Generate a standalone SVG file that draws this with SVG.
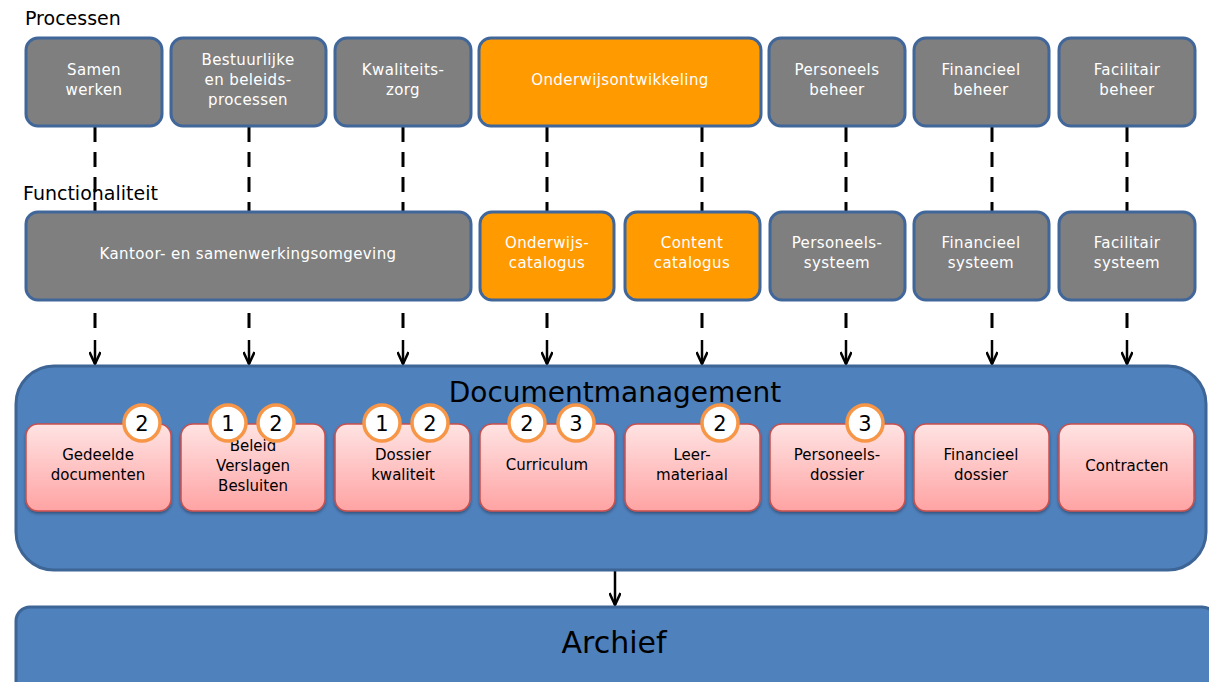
<svg xmlns="http://www.w3.org/2000/svg" width="1209" height="682" viewBox="0 0 1209 682">
  <style>
    .lbl { font-family: "DejaVu Sans", "Liberation Sans", sans-serif; font-size: 19px; fill: #000; }
    .proc { fill: #7F7F7F; stroke: #41679A; stroke-width: 3; }
    .hot { fill: #FF9A00; stroke: #41679A; stroke-width: 3; }
    .wt { font-family: "DejaVu Sans", "Liberation Sans", sans-serif; font-size: 15px; fill: #FFFFFF; text-anchor: middle; letter-spacing: 0.4px; }
    .doc { fill: url(#pink); stroke: #C9504D; stroke-width: 1.5; filter: url(#shadow); }
    .bt { font-family: "DejaVu Sans", "Liberation Sans", sans-serif; font-size: 15px; fill: #000; text-anchor: middle; }
    .badge { fill: #FFFFFF; stroke: #F79646; stroke-width: 3.5; }
    .num { font-family: "DejaVu Sans", "Liberation Sans", sans-serif; font-size: 21px; fill: #000; text-anchor: middle; }
    .big { fill: #4F81BD; stroke: #3D6596; stroke-width: 3; }
    .title { font-family: "DejaVu Sans", "Liberation Sans", sans-serif; font-size: 28px; fill: #000; text-anchor: middle; }
    .dash { stroke: #000; stroke-width: 3; stroke-dasharray: 15 10; fill: none; }
    .stem { stroke: #000; stroke-width: 2.5; fill: none; marker-end: url(#arrow); }
  </style>
  <defs>
    <linearGradient id="pink" x1="0" y1="0" x2="0" y2="1">
      <stop offset="0" stop-color="#FFE3E3"/>
      <stop offset="1" stop-color="#FFA3A3"/>
    </linearGradient>
    <filter id="shadow" x="-10%" y="-10%" width="120%" height="130%">
      <feDropShadow dx="0" dy="2" stdDeviation="1.5" flood-color="#000" flood-opacity="0.35"/>
    </filter>
    <marker id="arrow" viewBox="0 0 14 12" refX="13" refY="6" markerWidth="14" markerHeight="12" markerUnits="userSpaceOnUse" orient="auto">
      <path d="M1,0.5 L13,6 L1,11.5" fill="none" stroke="#000" stroke-width="2.5"/>
    </marker>
  </defs>

  <!-- connectors, drawn first so the boxes cover them -->
  <g id="connectors">
    <path class="dash" d="M95,127 V300 M249,127 V300 M403,127 V300 M547,127 V300 M702,127 V300 M846,127 V300 M992,127 V300 M1127,127 V300"/>
    <path class="dash" d="M95,313 V328 M249,313 V328 M403,313 V328 M547,313 V328 M702,313 V328 M846,313 V328 M992,313 V328 M1127,313 V328"/>
    <path class="stem" d="M95,340 V364"/>
    <path class="stem" d="M249,340 V364"/>
    <path class="stem" d="M403,340 V364"/>
    <path class="stem" d="M547,340 V364"/>
    <path class="stem" d="M702,340 V364"/>
    <path class="stem" d="M846,340 V364"/>
    <path class="stem" d="M992,340 V364"/>
    <path class="stem" d="M1127,340 V364"/>
    <path class="stem" d="M615,571 V605"/>
  </g>

  <!-- section labels -->
  <text class="lbl" x="25" y="25">Processen</text>
  <text class="lbl" x="23" y="200">Functionaliteit</text>

  <!-- processes -->
  <g id="p-samenwerken">
    <rect class="proc" x="26" y="38" width="136" height="88" rx="12"/>
    <text class="wt" x="94" y="75">Samen</text>
    <text class="wt" x="94" y="95">werken</text>
  </g>
  <g id="p-bestuurlijk">
    <rect class="proc" x="171" y="38" width="155" height="88" rx="12"/>
    <text class="wt" x="248" y="65">Bestuurlijke</text>
    <text class="wt" x="248" y="85">en beleids-</text>
    <text class="wt" x="248" y="105">processen</text>
  </g>
  <g id="p-kwaliteit">
    <rect class="proc" x="335" y="38" width="136" height="88" rx="12"/>
    <text class="wt" x="403" y="75">Kwaliteits-</text>
    <text class="wt" x="403" y="95">zorg</text>
  </g>
  <g id="p-onderwijs">
    <rect class="hot" x="479" y="38" width="282" height="88" rx="12"/>
    <text class="wt" x="620" y="85">Onderwijsontwikkeling</text>
  </g>
  <g id="p-personeel">
    <rect class="proc" x="769" y="38" width="136" height="88" rx="12"/>
    <text class="wt" x="837" y="75">Personeels</text>
    <text class="wt" x="837" y="95">beheer</text>
  </g>
  <g id="p-financieel">
    <rect class="proc" x="914" y="38" width="135" height="88" rx="12"/>
    <text class="wt" x="981" y="75">Financieel</text>
    <text class="wt" x="981" y="95">beheer</text>
  </g>
  <g id="p-facilitair">
    <rect class="proc" x="1059" y="38" width="136" height="88" rx="12"/>
    <text class="wt" x="1127" y="75">Facilitair</text>
    <text class="wt" x="1127" y="95">beheer</text>
  </g>

  <!-- functionality -->
  <g id="f-kantoor">
    <rect class="proc" x="26" y="212" width="445" height="88" rx="12"/>
    <text class="wt" x="248" y="259">Kantoor- en samenwerkingsomgeving</text>
  </g>
  <g id="f-onderwijscatalogus">
    <rect class="hot" x="480" y="212" width="134" height="88" rx="12"/>
    <text class="wt" x="547" y="248">Onderwijs-</text>
    <text class="wt" x="547" y="268">catalogus</text>
  </g>
  <g id="f-contentcatalogus">
    <rect class="hot" x="625" y="212" width="135" height="88" rx="12"/>
    <text class="wt" x="692" y="248">Content</text>
    <text class="wt" x="692" y="268">catalogus</text>
  </g>
  <g id="f-personeel">
    <rect class="proc" x="770" y="212" width="135" height="88" rx="12"/>
    <text class="wt" x="837" y="248">Personeels-</text>
    <text class="wt" x="837" y="268">systeem</text>
  </g>
  <g id="f-financieel">
    <rect class="proc" x="914" y="212" width="135" height="88" rx="12"/>
    <text class="wt" x="981" y="248">Financieel</text>
    <text class="wt" x="981" y="268">systeem</text>
  </g>
  <g id="f-facilitair">
    <rect class="proc" x="1059" y="212" width="136" height="88" rx="12"/>
    <text class="wt" x="1127" y="248">Facilitair</text>
    <text class="wt" x="1127" y="268">systeem</text>
  </g>

  <!-- document management -->
  <g id="documentmanagement">
    <rect class="big" x="16" y="366" width="1190" height="204" rx="38"/>
    <text class="title" x="615" y="402">Documentmanagement</text>
  </g>

  <g id="d-gedeeld">
    <rect class="doc" x="26" y="424" width="145" height="87" rx="12"/>
    <text class="bt" x="98" y="460">Gedeelde</text>
    <text class="bt" x="98" y="480">documenten</text>
  </g>
  <g id="d-beleid">
    <rect class="doc" x="181" y="424" width="144" height="87" rx="12"/>
    <text class="bt" x="253" y="451">Beleid</text>
    <text class="bt" x="253" y="471">Verslagen</text>
    <text class="bt" x="253" y="491">Besluiten</text>
  </g>
  <g id="d-dossier">
    <rect class="doc" x="335" y="424" width="135" height="87" rx="12"/>
    <text class="bt" x="403" y="460">Dossier</text>
    <text class="bt" x="403" y="480">kwaliteit</text>
  </g>
  <g id="d-curriculum">
    <rect class="doc" x="480" y="424" width="135" height="87" rx="12"/>
    <text class="bt" x="547" y="470">Curriculum</text>
  </g>
  <g id="d-leermateriaal">
    <rect class="doc" x="625" y="424" width="135" height="87" rx="12"/>
    <text class="bt" x="692" y="460">Leer-</text>
    <text class="bt" x="692" y="480">materiaal</text>
  </g>
  <g id="d-personeel">
    <rect class="doc" x="770" y="424" width="135" height="87" rx="12"/>
    <text class="bt" x="837" y="460">Personeels-</text>
    <text class="bt" x="837" y="480">dossier</text>
  </g>
  <g id="d-financieel">
    <rect class="doc" x="914" y="424" width="135" height="87" rx="12"/>
    <text class="bt" x="981" y="460">Financieel</text>
    <text class="bt" x="981" y="480">dossier</text>
  </g>
  <g id="d-contracten">
    <rect class="doc" x="1059" y="424" width="135" height="87" rx="12"/>
    <text class="bt" x="1127" y="471">Contracten</text>
  </g>

  <!-- numbered badges -->
  <g id="badges">
    <circle class="badge" cx="142" cy="423" r="18"/><text class="num" x="142" y="431">2</text>
    <circle class="badge" cx="228" cy="423" r="18"/><text class="num" x="228" y="431">1</text>
    <circle class="badge" cx="276" cy="423" r="18"/><text class="num" x="276" y="431">2</text>
    <circle class="badge" cx="382" cy="423" r="18"/><text class="num" x="382" y="431">1</text>
    <circle class="badge" cx="430" cy="423" r="18"/><text class="num" x="430" y="431">2</text>
    <circle class="badge" cx="527" cy="423" r="18"/><text class="num" x="527" y="431">2</text>
    <circle class="badge" cx="576" cy="423" r="18"/><text class="num" x="576" y="431">3</text>
    <circle class="badge" cx="720" cy="423" r="18"/><text class="num" x="720" y="431">2</text>
    <circle class="badge" cx="865" cy="423" r="18"/><text class="num" x="865" y="431">3</text>
  </g>

  <!-- archive -->
  <g id="archief">
    <rect class="big" x="16" y="607" width="1200" height="100" rx="14"/>
    <text class="title" x="614" y="653" style="font-size:30px">Archief</text>
  </g>
</svg>
